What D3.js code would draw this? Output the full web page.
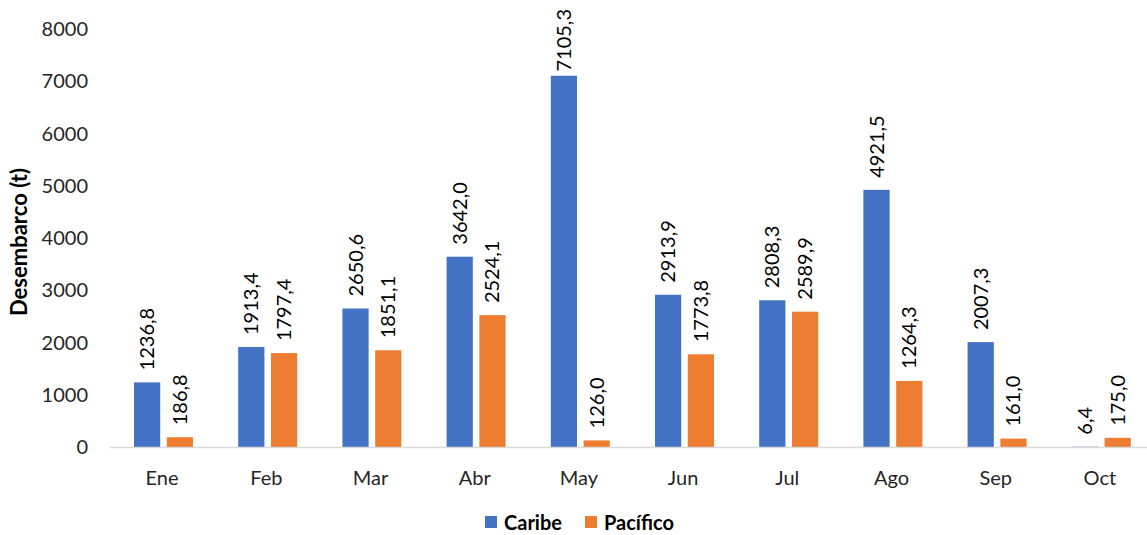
<!DOCTYPE html>
<html>
<head>
<meta charset="utf-8">
<script src="https://cdn.jsdelivr.net/npm/d3@7"></script>
<style>
    body { margin: 0; background: #fff; }
    svg { font-family: Lato, "Open Sans", sans-serif; }
</style>
</head>
<body>
<div id="chart"></div>
<script>
var months = ["Ene", "Feb", "Mar", "Abr", "May", "Jun", "Jul", "Ago", "Sep", "Oct"];
var caribe = [1236.8, 1913.4, 2650.6, 3642.0, 7105.3, 2913.9, 2808.3, 4921.5, 2007.3, 6.4];
var pacifico = [186.8, 1797.4, 1851.1, 2524.1, 126.0, 1773.8, 2589.9, 1264.3, 161.0, 175.0];
var seriesNames = ["Caribe", "Pacífico"];
var colors = ["#4472C4", "#ED7D31"];
var yTicks = [0, 1000, 2000, 3000, 4000, 5000, 6000, 7000, 8000];

var width = 1147, height = 535;
var margin = {top: 29, right: -5, bottom: 88, left: 110};
var innerW = width - margin.left - margin.right,
    innerH = height - margin.top - margin.bottom;

var svg = d3.select("#chart").append("svg")
    .attr("width", width)
    .attr("height", height);

var g = svg.append("g")
    .attr("transform", "translate(" + margin.left + "," + margin.top + ")");

var x = d3.scaleBand().domain(months).range([0, innerW]);
var x1 = d3.scaleBand().domain(seriesNames).range([24, 83]).paddingInner(0.2);
var y = d3.scaleLinear().domain([0, 8000]).range([innerH, 0]);

var fmt = function (v) { return d3.format(".1f")(v).replace(".", ","); };

// y axis labels
g.selectAll(".ytick")
    .data(yTicks)
    .enter().append("text")
    .attr("x", -22)
    .attr("y", function (d) { return y(d); })
    .attr("dy", "0.35em")
    .attr("text-anchor", "end")
    .style("font-size", "20px")
    .style("fill", "#262626")
    .text(function (d) { return d; });

// bars
var data = months.map(function (m, i) {
    return {month: m, values: [
        {name: seriesNames[0], value: caribe[i], color: colors[0]},
        {name: seriesNames[1], value: pacifico[i], color: colors[1]}
    ]};
});

var groups = g.selectAll(".grp")
    .data(data)
    .enter().append("g")
    .attr("transform", function (d) { return "translate(" + x(d.month) + ",0)"; });

groups.selectAll("rect")
    .data(function (d) { return d.values; })
    .enter().append("rect")
    .attr("x", function (d) { return x1(d.name); })
    .attr("y", function (d) { return y(d.value); })
    .attr("width", x1.bandwidth())
    .attr("height", function (d) { return innerH - y(d.value); })
    .attr("fill", function (d) { return d.color; });

// data labels (rotated)
groups.selectAll(".lbl")
    .data(function (d) { return d.values; })
    .enter().append("text")
    .attr("class", "lbl")
    .style("font-size", "20px")
    .style("fill", "#000")
    .text(function (d) { return fmt(d.value); })
    .each(function (d) {
        var len = this.getComputedTextLength();
        var base = y(d.value) - 12;
        if (base - len < -20) base = -20 + len;
        var cx = x1(d.name) + x1.bandwidth() / 2 + 7;
        d3.select(this).attr("transform", "translate(" + cx + "," + base + ") rotate(-90)");
    });

// x axis line
g.append("line")
    .attr("x1", 0).attr("x2", innerW)
    .attr("y1", innerH + 0.5).attr("y2", innerH + 0.5)
    .attr("stroke", "#d9d9d9")
    .attr("stroke-width", 1.5);

// x labels
g.selectAll(".xtick")
    .data(months)
    .enter().append("text")
    .attr("x", function (d) { return x(d) + x.bandwidth() / 2; })
    .attr("y", innerH + 38)
    .attr("text-anchor", "middle")
    .style("font-size", "20px")
    .style("fill", "#262626")
    .text(function (d) { return d; });

// y axis title
svg.append("text")
    .attr("transform", "translate(27," + 242 + ") rotate(-90)")
    .attr("text-anchor", "middle")
    .style("font-size", "22px")
    .style("font-weight", "bold")
    .style("fill", "#000")
    .text("Desembarco (t)");

// legend
var legend = svg.append("g").attr("transform", "translate(485,514)");
var legX = [0, 100];
seriesNames.forEach(function (s, i) {
    legend.append("rect")
        .attr("x", legX[i]).attr("y", 2)
        .attr("width", 12).attr("height", 12)
        .attr("fill", colors[i]);
    legend.append("text")
        .attr("x", legX[i] + 19).attr("y", 16)
        .style("font-size", "20px")
        .style("font-weight", "bold")
        .style("fill", "#000")
        .text(s);
});
</script>
</body>
</html>
